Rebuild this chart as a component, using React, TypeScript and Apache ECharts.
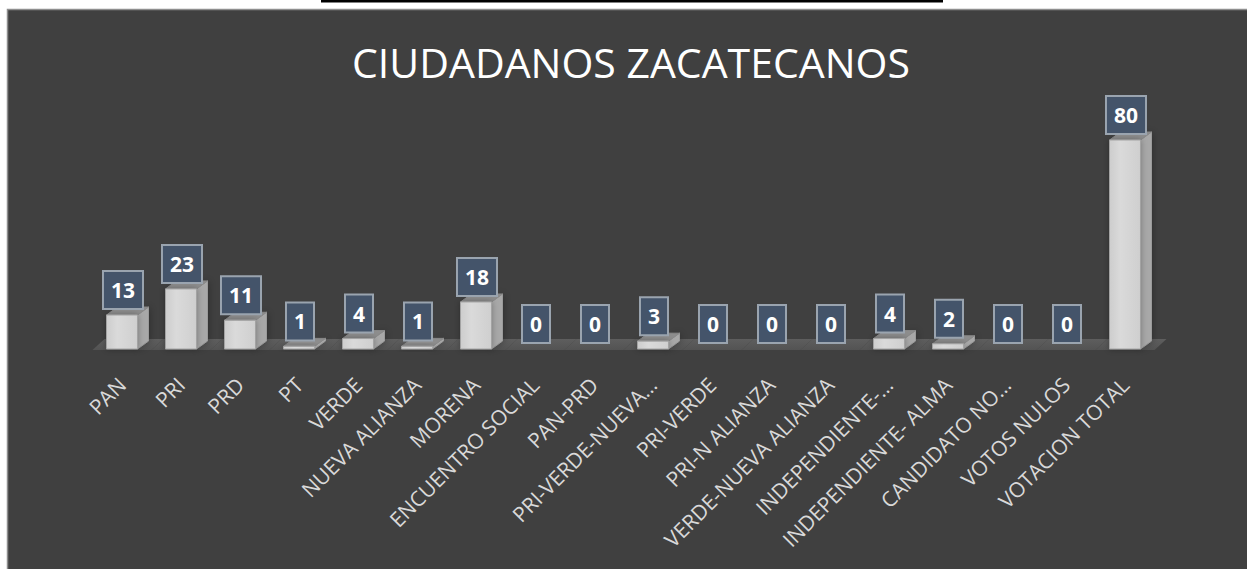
import React, { useEffect, useRef } from "react";
import * as echarts from "echarts";

const categories = [
  "PAN",
  "PRI",
  "PRD",
  "PT",
  "VERDE",
  "NUEVA ALIANZA",
  "MORENA",
  "ENCUENTRO SOCIAL",
  "PAN-PRD",
  "PRI-VERDE-NUEVA…",
  "PRI-VERDE",
  "PRI-N ALIANZA",
  "VERDE-NUEVA ALIANZA",
  "INDEPENDIENTE-…",
  "INDEPENDIENTE- ALMA",
  "CANDIDATO NO…",
  "VOTOS NULOS",
  "VOTACION TOTAL",
];
const values = [13, 23, 11, 1, 4, 1, 18, 0, 0, 3, 0, 0, 0, 4, 2, 0, 0, 80];
const titleText = "CIUDADANOS ZACATECANOS";

const FONT = '"Open Sans", "Noto Sans", sans-serif';

export default function App() {
  const ref = useRef<HTMLDivElement>(null);
  useEffect(() => {
    if (!ref.current) return;
    const chart = echarts.init(ref.current, undefined, { renderer: "svg" });
    const data = values.map((v, i) => [i, v]);

    const option: any = {
      animation: false,
      backgroundColor: "#ffffff",
      graphic: [
        {
          type: "rect",
          z: -10,
          shape: { x: 7.5, y: 9.5, width: 1250, height: 570 },
          style: { fill: "#404040", stroke: "#8e8e8e", lineWidth: 1.5 },
        },
        {
          type: "rect",
          z: -10,
          shape: { x: 321, y: 0, width: 622, height: 2.5 },
          style: { fill: "#000000" },
        },
        {
          type: "text",
          z: 10,
          x: 631,
          y: 62,
          style: {
            text: titleText,
            fill: "#ffffff",
            font: `400 41px ${FONT}`,
            align: "center",
            verticalAlign: "middle",
            textAlign: "center",
            textVerticalAlign: "middle",
          },
        },
      ],
      grid: { left: 92.5, right: 92.5, top: 140, bottom: 220, containLabel: false },
      xAxis: {
        type: "category",
        data: categories,
        axisLine: { show: false },
        axisTick: { show: false },
        splitLine: { show: false },
        axisLabel: {
          interval: 0,
          rotate: 45,
          margin: 32,
          color: "#d9d9d9",
          fontFamily: FONT,
          fontSize: 21,
        },
      },
      yAxis: {
        type: "value",
        min: 0,
        max: 80,
        show: false,
        splitLine: { show: false },
      },
      series: [
        {
          type: "custom",
          z: 1,
          data,
          renderItem: (params: any, api: any) => {
            const i = api.value(0);
            const base = api.coord([i, 0]);
            const bw = api.size([1, 0])[0];
            const l = base[0] - bw / 2;
            const r = base[0] + bw / 2;
            const yb = base[1] + 1;
            const yt = base[1] - 10;
            return {
              type: "polygon",
              shape: {
                points: [
                  [l, yb],
                  [r, yb],
                  [r + 12, yt],
                  [l + 12, yt],
                ],
              },
              style: {
                fill: new echarts.graphic.LinearGradient(0, 0, 0, 1, [
                  { offset: 0, color: "#5e5e5e" },
                  { offset: 1, color: "#535353" },
                ]),
              },
            };
          },
        },
        {
          type: "custom",
          z: 3,
          data,
          renderItem: (params: any, api: any) => {
            const i = api.value(0);
            const v = api.value(1);
            const base = api.coord([i, 0]);
            const top = api.coord([i, v]);
            const bw = api.size([1, 0])[0];
            const w = bw * 0.525;
            const dx = 11;
            const dy = -8;
            const x0 = base[0] - w / 2;
            const x1 = base[0] + w / 2;
            const yb = base[1];
            const yt = top[1];
            const children: any[] = [];
            if (v > 0) {
              children.push({
                type: "polygon",
                shape: {
                  points: [
                    [x1, yt],
                    [x1 + dx, yt + dy],
                    [x1 + dx, yb + dy],
                    [x1, yb],
                  ],
                },
                style: {
                  fill: "#a8a8a8",
                  stroke: "#9a9a9a",
                  lineWidth: 1,
                  shadowBlur: 8,
                  shadowColor: "rgba(0,0,0,0.35)",
                },
              });
              children.push({
                type: "polygon",
                shape: {
                  points: [
                    [x0, yt],
                    [x0 + dx, yt + dy],
                    [x1 + dx, yt + dy],
                    [x1, yt],
                  ],
                },
                style: {
                  fill: "#8d8d8d",
                  stroke: "#8a8a8a",
                  lineWidth: 1,
                },
              });
              children.push({
                type: "rect",
                shape: { x: x0, y: yt, width: w, height: yb - yt },
                style: {
                  fill: new echarts.graphic.LinearGradient(0, 0, 1, 0, [
                    { offset: 0, color: "#cdcdcd" },
                    { offset: 0.35, color: "#dadada" },
                    { offset: 1, color: "#cfcfcf" },
                  ]),
                  stroke: "#a3a3a3",
                  lineWidth: 1,
                  shadowBlur: 6,
                  shadowColor: "rgba(0,0,0,0.3)",
                },
              });
            }
            children.push({
              type: "text",
              x: base[0] + 1,
              y: (v > 0 ? yt : yb) - 7,
              z2: 10,
              style: {
                text: String(v),
                fill: "#ffffff",
                font: `bold 21px ${FONT}`,
                align: "center",
                verticalAlign: "bottom",
                lineHeight: 22,
                backgroundColor: "#44546a",
                borderColor: "#9aa4af",
                borderWidth: 2,
                padding: [7, 7, 7, 7],
              },
            });
            return { type: "group", children };
          },
        },
      ],
    };
    chart.setOption(option);
    return () => chart.dispose();
  }, []);

  return (
    <div
      ref={ref}
      style={{ position: "absolute", left: 0, top: 0, width: 1247, height: 569 }}
    />
  );
}
